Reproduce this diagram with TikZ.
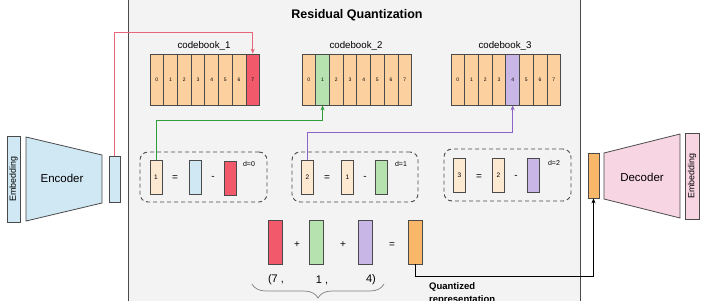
\documentclass[tikz,border=0pt]{standalone}
\usepackage{fontspec}
\setmainfont{Liberation Sans}
\usepackage{tikz}
\usetikzlibrary{arrows.meta,positioning,calc,decorations.pathreplacing}
\usepackage{xcolor}
\definecolor{edge}{HTML}{4A4A4A}
\definecolor{panel}{HTML}{F3F3F3}
\definecolor{encblue}{HTML}{CFE8F4}
\definecolor{decpink}{HTML}{F8D5E2}
\definecolor{cbpeach}{HTML}{FDD0A0}
\definecolor{respeach}{HTML}{FDE8D2}
\definecolor{cellred}{HTML}{F25A6C}
\definecolor{cellgreen}{HTML}{B5E2AE}
\definecolor{cellpurple}{HTML}{C8B6E6}
\definecolor{qorange}{HTML}{F9B869}
\definecolor{redline}{HTML}{E8667A}
\definecolor{greenline}{HTML}{2E9E3A}
\definecolor{purpleline}{HTML}{8C63C8}

\begin{document}
\begin{tikzpicture}[x=1pt, y=-1pt,
  cell/.style={draw=edge, fill=cbpeach, line width=0.7pt, minimum width=13.7pt, minimum height=51pt, inner sep=0pt, font=\fontsize{5}{6}\selectfont},
  vec/.style={draw=edge, line width=0.7pt, minimum width=12pt, minimum height=34pt, inner sep=0pt, font=\fontsize{6.5}{7}\selectfont},
  bigvec/.style={vec, minimum width=14pt, minimum height=44pt},
  op/.style={font=\fontsize{10}{12}\selectfont},
  dlabel/.style={font=\fontsize{7}{8}\selectfont},
  group/.style={draw=edge, dashed, dash pattern=on 4pt off 3pt, line width=0.9pt, rounded corners=8pt, inner sep=0pt},
  embbox/.style={draw=edge, line width=0.7pt, rotate=90, minimum width=86pt, minimum height=13pt, inner sep=0pt, font=\fontsize{8.9}{10}\selectfont},
  link/.style={line width=0.9pt, -{Stealth[length=5pt,width=4pt]}}
]
  \path[use as bounding box, clip] (0,0) rectangle (704,300);

  % Residual quantization panel
  \draw[draw=edge, fill=panel, line width=0.8pt] (128,-5) rectangle (580,305);
  \node[font=\bfseries\fontsize{12.5}{14}\selectfont] (title) at (357,15) {Residual Quantization};

  % Codebooks
  \foreach \k/\x in {1/150, 2/302, 3/451} {
    \foreach \i in {0,...,7}
      \node[cell] (cb\k-\i) at (\x+6.85+\i*13.7, 79.5) {\i};
    \node[font=\fontsize{9.7}{11}\selectfont] (cblabel\k) at (\x+54, 46) {codebook\_\k};
  }
  \node[cell, fill=cellred] (cb1-7) at (cb1-7.center) {7};
  \node[cell, fill=cellgreen] (cb2-1) at (cb2-1.center) {1};
  \node[cell, fill=cellpurple] (cb3-4) at (cb3-4.center) {4};

  % Encoder side
  \node[embbox, fill=encblue] (embl) at (13.5,179) {Embedding};
  \draw[draw=edge, fill=encblue, line width=0.8pt] (26,137) -- (102,155) -- (102,203) -- (26,221) -- cycle;
  \node[font=\fontsize{11.5}{13}\selectfont] (enc) at (62,178) {Encoder};
  \node[vec, fill=encblue, minimum width=11pt, minimum height=46pt] (encout) at (114.5,179) {};

  % Decoder side
  \node[vec, fill=qorange, minimum width=11pt, minimum height=45pt] (decin) at (593.5,175.5) {};
  \draw[draw=edge, fill=decpink, line width=0.8pt] (604,153) -- (680,134) -- (680,218) -- (604,199) -- cycle;
  \node[font=\fontsize{11.5}{13}\selectfont] (dec) at (642,177) {Decoder};
  \node[embbox, fill=decpink, minimum height=14pt] (embr) at (692,176) {Embedding};

  % Residual steps
  \node[group, minimum width=127pt, minimum height=50pt] (grp0) at (203.5,177) {};
  \node[vec, fill=respeach] (res0) at (156,177) {1};
  \node[op] (eq0) at (175,178) {=};
  \node[vec, fill=encblue] (in0) at (195,177) {};
  \node[op] (mi0) at (213,178) {-};
  \node[vec, fill=cellred] (q0) at (230,178) {};
  \node[dlabel] (d0) at (249,164) {d=0};

  \node[group, minimum width=126pt, minimum height=50pt] (grp1) at (355,177) {};
  \node[vec, fill=respeach] (res1) at (307.5,177) {2};
  \node[op] (eq1) at (327,178) {=};
  \node[vec, fill=respeach] (in1) at (347.5,177) {1};
  \node[op] (mi1) at (365,178) {-};
  \node[vec, fill=cellgreen] (q1) at (381.5,177) {};
  \node[dlabel] (d1) at (401,164) {d=1};

  \node[group, minimum width=127pt, minimum height=52pt] (grp2) at (507.5,175) {};
  \node[vec, fill=respeach] (res2) at (459.5,175.5) {3};
  \node[op] (eq2) at (479,177) {=};
  \node[vec, fill=respeach] (in2) at (498.5,175.5) {2};
  \node[op] (mi2) at (516,177) {-};
  \node[vec, fill=cellpurple] (q2) at (533.5,175.5) {};
  \node[dlabel] (d2) at (554,163) {d=2};

  % Sum of codewords
  \node[bigvec, fill=cellred] (sumred) at (275,242) {};
  \node[op] (pl1) at (297,245) {+};
  \node[bigvec, fill=cellgreen] (sumgreen) at (316,242) {};
  \node[op] (pl2) at (343,245) {+};
  \node[bigvec, fill=cellpurple] (sumpurple) at (365,242) {};
  \node[op] (eq3) at (392,245) {=};
  \node[bigvec, fill=qorange] (sumorange) at (415,242) {};
  \node[font=\fontsize{11}{12}\selectfont] (tup7) at (276,280) {(7 ,};
  \node[font=\fontsize{11}{12}\selectfont] (tup1) at (322,280) {1 ,};
  \node[font=\fontsize{11}{12}\selectfont] (tup4) at (371,280) {4)};
  \draw[draw=gray, line width=0.7pt, decorate, decoration={brace, mirror, amplitude=14pt}] (252,284) -- (384,284);
  \node[font=\bfseries\fontsize{9.5}{13}\selectfont, align=left, anchor=north west, inner sep=0pt] (qlabel) at (429,282) {Quantized\\representation};

  % Connectors
  \draw[link, redline] (encout.north) -- ++(0,-123) -| (cb1-7.north);
  \draw[link, greenline] (res0.north) -- ++(0,-39) -| (cb2-1.south);
  \draw[link, purpleline] (res1.north) -- ++(0,-27) -| (cb3-4.south);
  \draw[link, black] (sumorange.south) -- ++(0,12) -| (decin.south);
\end{tikzpicture}
\end{document}
